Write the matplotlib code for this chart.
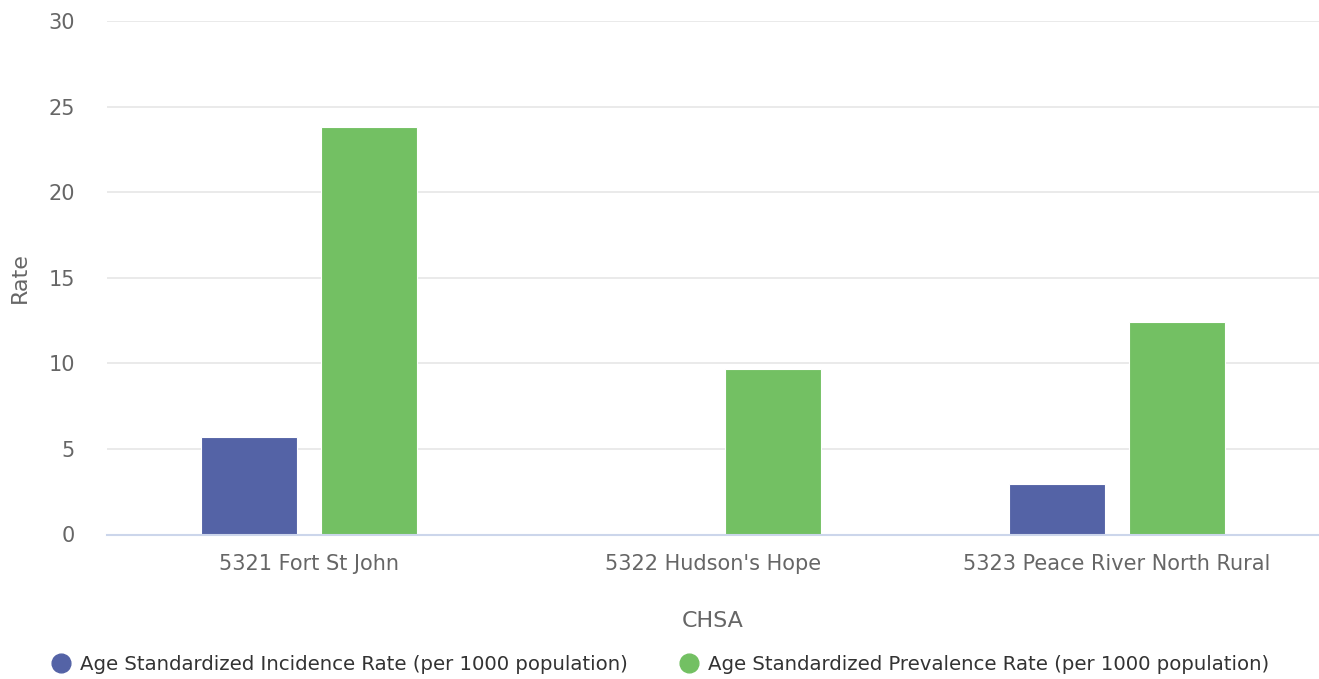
import matplotlib
matplotlib.use("Agg")
import matplotlib.pyplot as plt
from matplotlib.lines import Line2D
import numpy as np

categories = ["5321 Fort St John", "5322 Hudson's Hope", "5323 Peace River North Rural"]
incidence = [5.68, None, 2.93]
prevalence = [23.79, 9.65, 12.40]
series_names = ["Age Standardized Incidence Rate (per 1000 population)",
                "Age Standardized Prevalence Rate (per 1000 population)"]
colors = ["#5463a6", "#73c063"]
yticks = [0, 5, 10, 15, 20, 25, 30]

plt.rcParams['font.family'] = ['DejaVu Sans']

W, H = 1319, 679
fig = plt.figure(figsize=(W / 100, H / 100), dpi=100)
ax = fig.add_axes([107 / W, 1 - 534.5 / H, (1319 - 107) / W, (534.5 - 21) / H])

x = np.arange(len(categories))
bw = 0.238
off = 0.1485
inc_vals = [np.nan if v is None else v for v in incidence]
ax.bar(x - off, inc_vals, width=bw, color=colors[0], edgecolor="white", linewidth=0.8, zorder=3)
ax.bar(x + off, prevalence, width=bw, color=colors[1], edgecolor="white", linewidth=0.8, zorder=3)

ax.set_xlim(-0.5, len(categories) - 0.5)
ax.set_ylim(0, 30)
ax.set_yticks(yticks)
ax.set_yticklabels([str(t) for t in yticks])
ax.grid(axis="y", color="#e6e6e6", linewidth=1.2, zorder=0)
for s in ["top", "right", "left"]:
    ax.spines[s].set_visible(False)
ax.spines["bottom"].set_color("#ccd6eb")
ax.spines["bottom"].set_linewidth(1.5)
ax.spines["bottom"].set_zorder(4)

ax.set_xticks(x)
ax.set_xticklabels(categories)
ax.tick_params(axis="x", length=0, pad=14, labelsize=15, labelcolor="#666666")
ax.tick_params(axis="y", length=0, pad=23, labelsize=15, labelcolor="#666666")

ax.set_xlabel("CHSA", fontsize=16, color="#666666", labelpad=27)
ax.set_ylabel("Rate", fontsize=16, color="#666666")
ax.yaxis.set_label_coords(-(107 - 30) / (1319 - 107), 0.5)

handles = [Line2D([0], [0], marker="o", linestyle="none", markersize=13.5,
                  markerfacecolor=c, markeredgecolor=c) for c in colors]
fig.legend(handles, series_names, loc="center", bbox_to_anchor=(660 / W, 1 - 664 / H),
           ncol=2, frameon=False, fontsize=14.2, labelcolor="#333333",
           handletextpad=0.45, columnspacing=2.6, handlelength=1.0)

fig.savefig("out.png", dpi=100)
